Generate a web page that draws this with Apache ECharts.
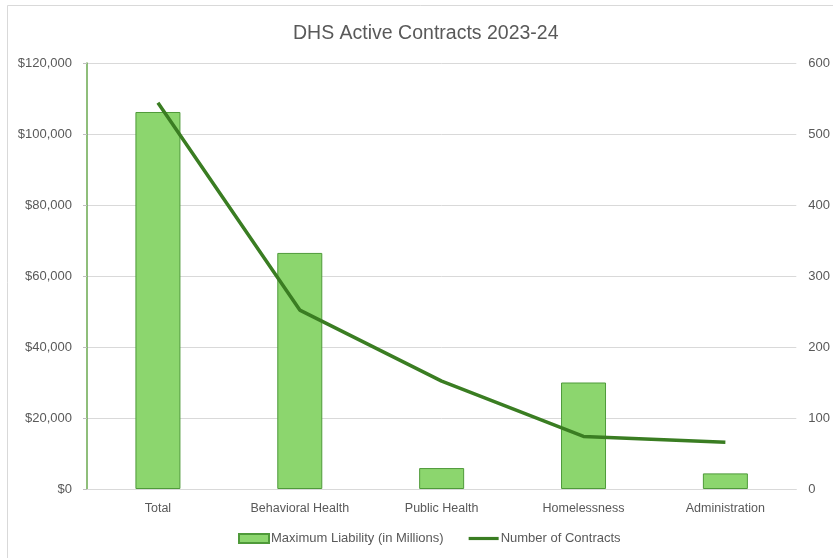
<!DOCTYPE html>
<html>
<head>
<meta charset="utf-8">
<script src="https://cdn.jsdelivr.net/npm/echarts@6/dist/echarts.min.js"></script>
<style>
html,body{margin:0;padding:0;background:#fff;}
#c{width:833px;height:558px;}
</style>
</head>
<body>
<div id="c"></div>
<script>
const categories = ['Total', 'Behavioral Health', 'Public Health', 'Homelessness', 'Administration'];
const maxLiability = [106200, 66500, 5900, 30000, 4400];
const numContracts = [544, 252, 152, 74, 66];
const seriesNames = ['Maximum Liability (in Millions)', 'Number of Contracts'];
const titleText = 'DHS Active Contracts 2023-24';

const chart = echarts.init(document.getElementById('c'));
const txt = '#595959';
chart.setOption({
  animation: false,
  backgroundColor: '#fff',
  graphic: [{
    type: 'rect', silent: true, z: -1,
    shape: {x: 7.5, y: 5.5, width: 900, height: 900},
    style: {fill: 'none', stroke: '#d9d9d9', lineWidth: 1}
  }],
  title: {
    text: titleText, left: 288, top: 19,
    textStyle: {fontFamily: 'Liberation Sans', fontSize: 19.5, fontWeight: 'normal', color: '#595959'}
  },
  legend: {
    bottom: 8, left: 233, itemGap: 25, itemWidth: 30, itemHeight: 9,
    textStyle: {fontFamily: 'Liberation Sans', fontSize: 13, color: txt, padding: [0,0,0,-3]},
    data: [
      {name: seriesNames[0], icon: 'rect'},
      {name: seriesNames[1], icon: 'path://M0,0 L33,0 L33,3.5 L0,3.5 Z'}
    ]
  },
  grid: {left: 87, right: 33, top: 63, bottom: 69},
  xAxis: {
    type: 'category', data: categories,
    axisLine: {lineStyle: {color: '#d9d9d9'}},
    axisTick: {show: false},
    axisLabel: {color: txt, fontFamily: 'Liberation Sans', fontSize: 12.5, margin: 13}
  },
  yAxis: [{
    type: 'value', min: 0, max: 120000, interval: 20000,
    axisLine: {show: true, lineStyle: {color: '#6aa84f', width: 1.5}},
    axisTick: {show: true, length: 4, lineStyle: {color: '#bfbfbf'}},
    splitLine: {lineStyle: {color: '#d9d9d9'}},
    axisLabel: {color: txt, fontFamily: 'Liberation Sans', fontSize: 13, margin: 15,
      formatter: v => '$' + v.toLocaleString('en-US')}
  }, {
    type: 'value', min: 0, max: 600, interval: 100,
    axisLine: {show: false}, axisTick: {show: false},
    splitLine: {show: false},
    axisLabel: {color: txt, fontFamily: 'Liberation Sans', fontSize: 13, margin: 12}
  }],
  series: [{
    name: seriesNames[0], type: 'bar', data: maxLiability, barWidth: 45,
    itemStyle: {color: '#8cd66e', borderColor: '#4f9a3a', borderWidth: 1}
  }, {
    name: seriesNames[1], type: 'line', yAxisIndex: 1, data: numContracts,
    symbol: 'none', lineStyle: {color: '#3a7d22', width: 3.5},
    itemStyle: {color: '#3a7d22'}
  }]
});
</script>
</body>
</html>
